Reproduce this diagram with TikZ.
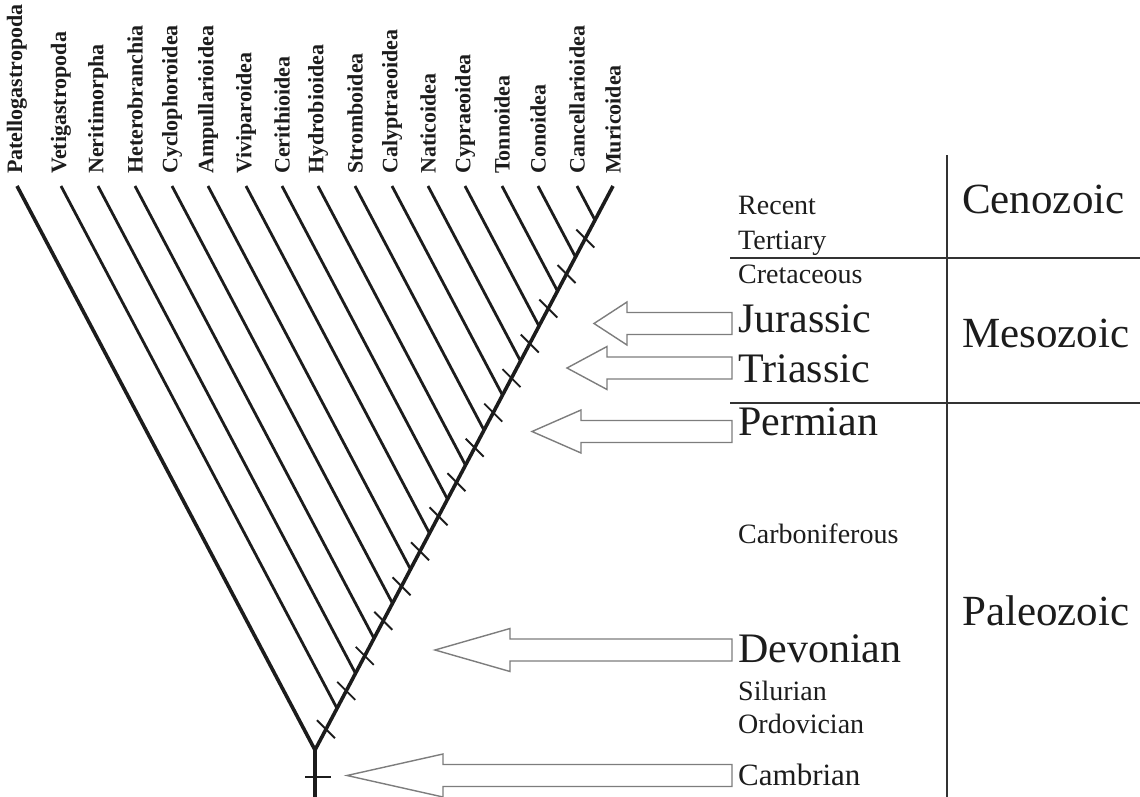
\documentclass[tikz,border=0pt]{standalone}
\usepackage{fontspec}
\setmainfont{Liberation Serif}
\usetikzlibrary{calc}

\definecolor{ink}{RGB}{28,28,28}
\definecolor{arrowgray}{RGB}{125,125,125}

\tikzset{
  edge/.style={line width=3.6pt, draw=ink, line join=miter},
  branch/.style={line width=2.8pt, draw=ink},
  tick/.style={line width=1.9pt, draw=ink},
  rule/.style={line width=1.8pt, draw=ink!90},
  hollow/.style={draw=arrowgray, line width=1.4pt, fill=white, line join=miter},
  taxon/.style={rotate=90, anchor=west, inner sep=0pt, text=ink,
    font=\bfseries\fontsize{22}{22}\selectfont},
  epoch/.style={anchor=base west, inner sep=0pt, text=ink,
    font=\fontsize{28}{28}\selectfont},
  bigepoch/.style={epoch, font=\fontsize{42}{42}\selectfont},
  era/.style={epoch, font=\fontsize{43}{43}\selectfont}
}

\begin{document}
\begin{tikzpicture}[x=1pt,y=-1pt]
  \useasboundingbox (0,0) rectangle (1140,797);

  % tree
  \coordinate (root) at (315,750);
  \coordinate (base) at (315,797);
  \foreach \x/\name [count=\i] in {17/Patellogastropoda, 61/Vetigastropoda,
      98/Neritimorpha, 135/Heterobranchia, 172/Cyclophoroidea,
      208/Ampullarioidea, 246/Viviparoidea, 282/Cerithioidea,
      318/Hydrobioidea, 355/Stromboidea, 392/Calyptraeoidea,
      428/Naticoidea, 465/Cypraeoidea, 502/Tonnoidea, 538/Conoidea,
      577/Cancellarioidea, 613/Muricoidea}{
    \coordinate (t\i) at (\x,186);
    \node[taxon] (lab\i) at (\x,174) {\name};
  }
  \draw[edge] (t1) -- (root) -- (t17);
  \draw[edge, line width=4pt] (root) -- (base);
  \coordinate (j1) at (root);
  \foreach \x [count=\i from 2] in {61,98,135,172,208,246,282,318,355,392,428,465,502,538,577}{
    \coordinate (j\i) at ($(root)!{(\x-17)/596}!(t17)$);
    \draw[branch] (t\i) -- (j\i);
  }
  \foreach \i [remember=\i as \k (initially 1)] in {2,...,16}{
    \coordinate (m\i) at ($(j\k)!0.5!(j\i)$);
    \draw[tick] ($(m\i)+(-9,-9)$) -- ($(m\i)+(9,9)$);
  }
  \coordinate (st) at (315,777);
  \draw[tick, line width=2pt] ($(st)+(-10,0)$) -- ($(st)+(16,0)$);

  % time table
  \draw[rule] (947,155) -- (947,797);
  \draw[rule] (730,258) -- (1140,258);
  \draw[rule] (730,403) -- (1140,403);

  \node[epoch] (recent) at (738,214) {Recent};
  \node[epoch] (tert) at (738,249) {Tertiary};
  \node[epoch] (cret) at (738,283) {Cretaceous};
  \node[bigepoch] (jur) at (738,332) {Jurassic};
  \node[bigepoch] (tri) at (738,382) {Triassic};
  \node[bigepoch] (perm) at (738,435) {Permian};
  \node[epoch] (carb) at (738,543) {Carboniferous};
  \node[bigepoch] (dev) at (738,662) {Devonian};
  \node[epoch] (sil) at (738,700) {Silurian};
  \node[epoch] (ord) at (738,733) {Ordovician};
  \node[epoch, font=\fontsize{31}{31}\selectfont] (camb) at (738,785) {Cambrian};

  \node[era] (ceno) at (962,213) {Cenozoic};
  \node[era] (meso) at (962,347) {Mesozoic};
  \node[era] (paleo) at (962,625) {Paleozoic};

  % arrows
  \foreach \yc/\xb/\xt in {323.5/627/594, 368/607/567, 431.5/581/532,
      650/510/435, 775.5/443/347}{
    \draw[hollow] (732,\yc-11) -- (\xb,\yc-11) -- (\xb,\yc-21.5) -- (\xt,\yc)
      -- (\xb,\yc+21.5) -- (\xb,\yc+11) -- (732,\yc+11) -- cycle;
  }
\end{tikzpicture}
\end{document}
